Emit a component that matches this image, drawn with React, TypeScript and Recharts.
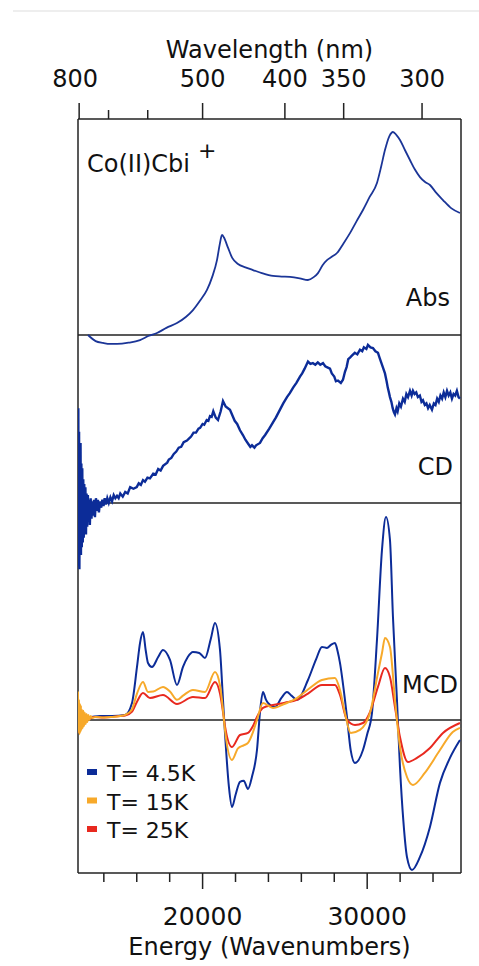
import React from 'react';
import { ComposedChart, Line, XAxis, YAxis, ReferenceLine } from 'recharts';

// energy (cm-1) / value pairs, arbitrary units per panel
const ABS: [number, number][] = [
    [13037, 0.0], [13500, -0.03], [13949, -0.039], [14400, -0.044], [14800, -0.044], [15500, -0.038],
    [16197, -0.025], [16700, -0.005], [17229, 0.01], [17800, 0.035], [18444, 0.059], [19000, 0.09],
    [19416, 0.123], [19850, 0.17], [20267, 0.222], [20600, 0.29], [20874, 0.369], [21050, 0.45],
    [21178, 0.493], [21300, 0.48], [21543, 0.43], [21800, 0.38], [22150, 0.35], [22600, 0.333],
    [23061, 0.32], [23600, 0.305], [24276, 0.291], [24800, 0.288], [25309, 0.286], [25900, 0.279],
    [26402, 0.271], [26750, 0.285], [27010, 0.305], [27300, 0.345], [27557, 0.369], [27850, 0.385],
    [28164, 0.404], [28550, 0.45], [28954, 0.502], [29350, 0.56], [29744, 0.616], [30150, 0.68],
    [30594, 0.749], [30850, 0.83], [31080, 0.911], [31350, 0.98], [31566, 1.0], [31780, 0.985],
    [31992, 0.961], [32300, 0.91], [32599, 0.862], [32900, 0.815], [33207, 0.778], [33500, 0.755],
    [33814, 0.739], [34200, 0.7], [34604, 0.665], [35100, 0.625], [35637, 0.601],
];

const CD: [number, number][] = [
    [12430, 0.05], [12450, 0.6], [12470, -0.4], [12495, 0.45], [12515, -0.42], [12540, 0.35],
    [12560, -0.3], [12585, 0.38], [12610, -0.33], [12635, 0.25], [12660, -0.28], [12690, 0.22],
    [12720, -0.25], [12750, 0.15], [12780, -0.22], [12810, 0.12], [12845, -0.18], [12880, 0.1],
    [12915, -0.2], [12950, 0.06], [12990, -0.15], [13030, 0.05], [13070, -0.12], [13110, 0.02],
    [13150, -0.14], [13200, 0.03], [13250, -0.1], [13300, 0.01], [13350, -0.08], [13400, 0.02],
    [13460, -0.09], [13520, 0.03], [13580, -0.05], [13640, 0.02], [13700, -0.06], [13770, 0.01],
    [13840, -0.03], [13910, 0.02], [13980, -0.02], [14050, 0.03], [14130, -0.01], [14210, 0.03],
    [14300, 0.0], [14400, 0.035], [14500, 0.01], [14600, 0.05], [14700, 0.03], [14800, 0.045],
    [14900, 0.03], [15000, 0.06], [15150, 0.04], [15300, 0.07], [15450, 0.06], [15600, 0.1],
    [15800, 0.09], [16000, 0.1], [16120, 0.125], [16250, 0.115], [16380, 0.145], [16500, 0.135],
    [16650, 0.16], [16800, 0.155], [17000, 0.185], [17150, 0.18], [17300, 0.215], [17450, 0.205],
    [17600, 0.235], [17850, 0.255], [17950, 0.275], [18100, 0.285], [18250, 0.31], [18400, 0.325],
    [18550, 0.35], [18700, 0.355], [18850, 0.385], [19050, 0.395], [19200, 0.41], [19300, 0.42],
    [19450, 0.445], [19600, 0.445], [19750, 0.47], [19850, 0.475], [20000, 0.5], [20100, 0.495],
    [20250, 0.525], [20350, 0.52], [20450, 0.55], [20550, 0.545], [20650, 0.58], [20800, 0.54],
    [20935, 0.525], [21100, 0.58], [21239, 0.645], [21400, 0.61], [21664, 0.59], [21950, 0.52],
    [22100, 0.5], [22272, 0.46], [22450, 0.43], [22600, 0.4], [22800, 0.37], [22900, 0.355],
    [23001, 0.365], [23150, 0.35], [23250, 0.365], [23487, 0.38], [23650, 0.41], [23800, 0.43],
    [24050, 0.47], [24276, 0.51], [24450, 0.54], [24600, 0.57], [24750, 0.6], [24900, 0.63],
    [25127, 0.67], [25300, 0.695], [25500, 0.73], [25700, 0.76], [25917, 0.8], [26050, 0.82],
    [26200, 0.85], [26402, 0.895], [26550, 0.88], [26700, 0.885], [26850, 0.875], [27000, 0.89],
    [27150, 0.875], [27314, 0.885], [27450, 0.865], [27550, 0.86], [27739, 0.85], [27850, 0.82],
    [28000, 0.8], [28100, 0.77], [28225, 0.775], [28400, 0.76], [28529, 0.78], [28650, 0.83],
    [28750, 0.86], [28850, 0.91], [28954, 0.92], [29100, 0.935], [29250, 0.95], [29400, 0.94],
    [29562, 0.97], [29700, 0.96], [29800, 0.985], [29950, 0.975], [30047, 1.0], [30200, 0.985],
    [30350, 0.98], [30500, 0.96], [30655, 0.95], [30750, 0.92], [30850, 0.89], [30950, 0.86],
    [31080, 0.82], [31180, 0.77], [31250, 0.73], [31320, 0.7], [31384, 0.67], [31470, 0.64],
    [31550, 0.6], [31620, 0.575], [31688, 0.56], [31780, 0.6], [31850, 0.58], [31950, 0.63],
    [32050, 0.61], [32174, 0.66], [32280, 0.64], [32380, 0.69], [32480, 0.67], [32600, 0.71],
    [32700, 0.68], [32782, 0.71], [32880, 0.69], [32980, 0.7], [33080, 0.67], [33200, 0.68],
    [33300, 0.64], [33389, 0.65], [33500, 0.62], [33600, 0.63], [33700, 0.6], [33800, 0.62],
    [33936, 0.59], [34050, 0.63], [34150, 0.62], [34250, 0.66], [34350, 0.64], [34450, 0.68],
    [34550, 0.66], [34650, 0.7], [34750, 0.67], [34850, 0.71], [34950, 0.68], [35050, 0.7],
    [35150, 0.66], [35250, 0.69], [35350, 0.68], [35450, 0.71], [35550, 0.67], [35637, 0.66],
];

const MCD_4K: [number, number][] = [
    [12430, 0.03], [12470, -0.02], [12510, 0.05], [12550, -0.01], [12600, 0.03], [12650, 0.0],
    [12720, 0.025], [12800, 0.01], [12900, 0.02], [13100, 0.015], [13767, 0.02], [14500, 0.02],
    [15285, 0.025], [15711, 0.084], [16014, 0.261], [16200, 0.38], [16379, 0.433], [16550, 0.34],
    [16683, 0.281], [16926, 0.261], [17300, 0.31], [17594, 0.345], [18019, 0.296], [18444, 0.172],
    [18809, 0.261], [19100, 0.31], [19416, 0.335], [19800, 0.33], [20145, 0.305], [20500, 0.4],
    [20753, 0.478], [21057, 0.345], [21239, 0.099], [21360, -0.064], [21600, -0.33], [21786, -0.429],
    [22000, -0.37], [22272, -0.305], [22500, -0.3], [22758, -0.34], [23000, -0.28], [23304, -0.148],
    [23500, 0.05], [23669, 0.138], [23850, 0.1], [23973, 0.084], [24398, 0.064], [24800, 0.11],
    [25127, 0.138], [25400, 0.12], [25735, 0.099], [26402, 0.197], [26900, 0.3], [27253, 0.36],
    [27557, 0.355], [27800, 0.37], [28043, 0.379], [28200, 0.34], [28347, 0.281], [28650, 0.099],
    [28772, 0.015], [29000, -0.15], [29258, -0.212], [29744, -0.148], [30000, -0.07], [30290, 0.034],
    [30594, 0.394], [30898, 0.837], [31141, 1.0], [31384, 0.887], [31566, 0.507], [31809, 0.099],
    [31992, -0.232], [32200, -0.5], [32417, -0.675], [32721, -0.739], [33207, -0.675], [33814, -0.527],
    [34422, -0.31], [35030, -0.187], [35637, -0.099],
];

const MCD_15K: [number, number][] = [
    [12430, 0.14], [12460, -0.06], [12490, 0.1], [12520, -0.07], [12550, 0.08], [12580, -0.06],
    [12610, 0.07], [12640, -0.05], [12680, 0.05], [12720, -0.04], [12760, 0.045], [12800, -0.03],
    [12850, 0.035], [12900, -0.02], [12950, 0.03], [13000, -0.01], [13060, 0.025], [13120, 0.0],
    [13200, 0.02], [13300, 0.01], [13500, 0.015], [14000, 0.012], [14500, 0.015], [15000, 0.02],
    [15300, 0.025], [15700, 0.05], [16014, 0.13], [16379, 0.187], [16683, 0.138], [17000, 0.14],
    [17594, 0.163], [18019, 0.14], [18444, 0.099], [18809, 0.12], [19416, 0.148], [20145, 0.138],
    [20753, 0.236], [21057, 0.17], [21239, 0.05], [21360, -0.05], [21786, -0.197], [22150, -0.14],
    [22500, -0.125], [22758, -0.113], [23061, -0.06], [23304, 0.0], [23669, 0.084], [24276, 0.059],
    [25000, 0.08], [25735, 0.108], [26402, 0.15], [27253, 0.197], [28043, 0.207], [28347, 0.148],
    [28650, 0.034], [29000, -0.064], [29562, -0.049], [30170, 0.034], [30655, 0.232], [30900, 0.33],
    [31080, 0.404], [31384, 0.36], [31688, 0.099], [31992, -0.133], [32417, -0.281], [32782, -0.32],
    [33500, -0.261], [34422, -0.148], [35200, -0.059], [35637, -0.039],
];

const MCD_25K: [number, number][] = [
    [12430, 0.05], [12460, -0.06], [12500, 0.04], [12540, -0.05], [12580, 0.03], [12620, -0.04],
    [12670, 0.025], [12720, -0.03], [12780, 0.02], [12850, -0.015], [12950, 0.015], [13100, 0.005],
    [13400, 0.015], [14000, 0.012], [15000, 0.02], [15300, 0.022], [15700, 0.04], [16014, 0.09],
    [16379, 0.133], [16804, 0.108], [17594, 0.123], [18444, 0.079], [19416, 0.113], [20145, 0.108],
    [20753, 0.187], [21057, 0.13], [21239, 0.04], [21360, -0.03], [21786, -0.133], [22272, -0.074],
    [22758, -0.064], [23061, -0.03], [23304, 0.015], [23669, 0.06], [24276, 0.074], [25000, 0.085],
    [25735, 0.099], [26402, 0.13], [27253, 0.172], [28043, 0.172], [28347, 0.123], [28772, 0.0],
    [29258, -0.025], [29744, -0.015], [30170, 0.039], [30655, 0.163], [31080, 0.256], [31384, 0.212],
    [31688, 0.064], [31992, -0.084], [32478, -0.207], [33025, -0.187], [33814, -0.138], [34604, -0.064],
    [35637, -0.015],
];

const LEGEND_NAMES = ['T= 4.5K', 'T= 15K', 'T= 25K'];
const BOTTOM_TICKS = [14000, 16000, 18000, 20000, 22000, 24000, 26000, 28000, 30000, 32000, 34000];
const BOTTOM_LABELS = [20000, 30000];
const TOP_TICKS_NM = [800, 700, 600, 500, 400, 350, 300];
const TOP_LABELS_NM = [800, 500, 400, 350, 300];

const BLUE = '#0c2c98';
const ORANGE = '#f7a92a';
const RED = '#e8291f';
const FONT = '"DejaVu Sans", sans-serif';
const E_MIN = 12430;
const E_MAX = 35700;

const toRows = (pts: [number, number][]) => pts.map(([e, v]) => ({ e, v }));

const BottomTick = (props: any) => {
    const { x, y, payload } = props;
    const major = BOTTOM_LABELS.includes(payload.value);
    return (
        <g>
            <line x1={x} x2={x} y1={y} y2={y + (major ? 16 : 9)} stroke="#222" strokeWidth={1.5} />
            {major && (
                <text x={x} y={y + 52} textAnchor="middle" fontSize={25} fontFamily={FONT} fill="#111">
                    {payload.value}
                </text>
            )}
        </g>
    );
};

const TopTick = (props: any) => {
    const { x, y, payload } = props;
    const nm = Math.round(1e7 / payload.value);
    const major = TOP_LABELS_NM.includes(nm);
    return (
        <g>
            <line x1={x} x2={x} y1={y} y2={y - (major ? 16 : 9)} stroke="#222" strokeWidth={1.5} />
            {major && (
                <text x={nm === 800 ? x - 4 : x} y={y - 32} textAnchor="middle" fontSize={24} fontFamily={FONT} fill="#111">
                    {nm}
                </text>
            )}
        </g>
    );
};

const App: React.FC = () => {
    const seriesColors = [BLUE, ORANGE, RED];
    return (
        <div style={{ position: 'absolute', left: 0, top: 0, width: 479, height: 966, background: '#fff' }}>
            <ComposedChart width={479} height={966} margin={{ top: 49, right: 18, bottom: 33, left: 78 }}>
                <XAxis
                    xAxisId="bottom"
                    dataKey="e"
                    type="number"
                    domain={[E_MIN, E_MAX]}
                    allowDataOverflow
                    ticks={BOTTOM_TICKS}
                    interval={0}
                    height={60}
                    tickSize={0}
                    tickMargin={0}
                    tickLine={false}
                    tick={<BottomTick />}
                    axisLine={{ stroke: '#222', strokeWidth: 1.5 }}
                    label={{
                        content: (p: any) => (
                            <text x={p.viewBox.x + p.viewBox.width / 2} y={p.viewBox.y + 82} textAnchor="middle" fontSize={24} fontFamily={FONT} fill="#111">
                                Energy (Wavenumbers)
                            </text>
                        ),
                    }}
                />
                <XAxis
                    xAxisId="top"
                    orientation="top"
                    dataKey="e"
                    type="number"
                    domain={[E_MIN, E_MAX]}
                    allowDataOverflow
                    ticks={TOP_TICKS_NM.map((nm) => 1e7 / nm)}
                    interval={0}
                    height={70}
                    tickSize={0}
                    tickMargin={0}
                    tickLine={false}
                    tick={<TopTick />}
                    axisLine={{ stroke: '#222', strokeWidth: 1.5 }}
                    label={{
                        content: (p: any) => (
                            <text x={p.viewBox.x + p.viewBox.width / 2} y={58} textAnchor="middle" fontSize={24} fontFamily={FONT} fill="#111">
                                Wavelength (nm)
                            </text>
                        ),
                    }}
                />
                <YAxis yAxisId="abs" hide type="number" domain={[-2.65, 1.064]} allowDataOverflow />
                <YAxis yAxisId="cd" hide type="number" domain={[-2.342, 2.43]} allowDataOverflow />
                <YAxis yAxisId="mcd" hide type="number" domain={[-0.754, 2.961]} allowDataOverflow />

                <ReferenceLine xAxisId="bottom" yAxisId="abs" x={E_MIN} stroke="#222" strokeWidth={1.5} />
                <ReferenceLine xAxisId="bottom" yAxisId="abs" x={E_MAX} stroke="#222" strokeWidth={1.5} />
                <ReferenceLine xAxisId="bottom" yAxisId="abs" y={0} stroke="#222" strokeWidth={1.5} />
                <ReferenceLine xAxisId="bottom" yAxisId="cd" y={0} stroke="#222" strokeWidth={1.5} />
                <ReferenceLine xAxisId="bottom" yAxisId="mcd" y={0} stroke="#222" strokeWidth={1.5} />

                <Line xAxisId="bottom" yAxisId="abs" data={toRows(ABS)} dataKey="v" type="monotone"
                    stroke="#1b3597" strokeWidth={1.8} dot={false} activeDot={false} isAnimationActive={false} />
                <Line xAxisId="bottom" yAxisId="cd" data={toRows(CD)} dataKey="v" type="linear"
                    stroke={BLUE} strokeWidth={2.4} dot={false} activeDot={false} isAnimationActive={false} />
                <Line xAxisId="bottom" yAxisId="mcd" data={toRows(MCD_4K)} dataKey="v" type="monotone"
                    stroke={BLUE} strokeWidth={2} dot={false} activeDot={false} isAnimationActive={false} />
                <Line xAxisId="bottom" yAxisId="mcd" data={toRows(MCD_25K)} dataKey="v" type="monotone"
                    stroke={RED} strokeWidth={2} dot={false} activeDot={false} isAnimationActive={false} />
                <Line xAxisId="bottom" yAxisId="mcd" data={toRows(MCD_15K)} dataKey="v" type="monotone"
                    stroke={ORANGE} strokeWidth={2} dot={false} activeDot={false} isAnimationActive={false} />
            </ComposedChart>

            {/* panel labels and legend */}
            <svg width={479} height={966} style={{ position: 'absolute', left: 0, top: 0, pointerEvents: 'none' }}>
                <line x1={13} x2={479} y1={11} y2={11} stroke="#ddd" strokeWidth={1} />
                <text x={87} y={172} fontSize={24} fontFamily={FONT} fill="#111">Co(II)Cbi</text>
                <text x={198} y={158} fontSize={22} fontFamily={FONT} fill="#111">+</text>
                <text x={450} y={306} textAnchor="end" fontSize={24} fontFamily={FONT} fill="#111">Abs</text>
                <text x={453} y={475} textAnchor="end" fontSize={24} fontFamily={FONT} fill="#111">CD</text>
                <text x={458} y={693} textAnchor="end" fontSize={24} fontFamily={FONT} fill="#111">MCD</text>
                {LEGEND_NAMES.map((name, i) => (
                    <g key={name}>
                        <rect x={87} y={769 + i * 28.5} width={10} height={6} fill={seriesColors[i]} />
                        <text x={107} y={781 + i * 28.5} fontSize={22} fontFamily={FONT} fill="#111">{name}</text>
                    </g>
                ))}
            </svg>
        </div>
    );
};

export default App;
